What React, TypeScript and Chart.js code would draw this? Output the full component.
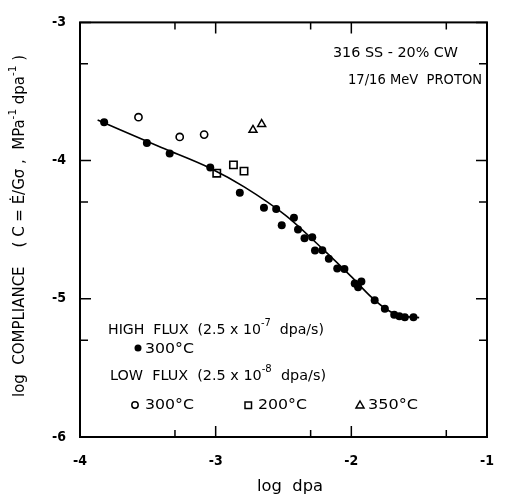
import React, { useEffect, useRef } from 'react';
import { Chart, registerables } from 'chart.js';

Chart.register(...registerables);

// ---- data (log dpa, log compliance) ----
const highFlux300X = [-3.822, -3.507, -3.339, -3.040, -2.822, -2.644, -2.554, -2.513, -2.423, -2.393, -2.345, -2.288, -2.268, -2.214, -2.166, -2.104, -2.051, -1.975, -1.926, -1.950, -1.828, -1.753, -1.684, -1.646, -1.606, -1.542];
const highFlux300Y = [-3.722, -3.872, -3.948, -4.050, -4.233, -4.342, -4.350, -4.468, -4.414, -4.498, -4.562, -4.555, -4.650, -4.648, -4.711, -4.780, -4.784, -4.889, -4.875, -4.917, -5.011, -5.072, -5.115, -5.126, -5.133, -5.133];

const lowFlux300X = [-3.569, -3.265, -3.085];
const lowFlux300Y = [-3.686, -3.829, -3.812];

const lowFlux200X = [-2.992, -2.869, -2.791];
const lowFlux200Y = [-4.091, -4.031, -4.076];

const lowFlux350X = [-2.725, -2.661];
const lowFlux350Y = [-3.779, -3.736];

const fitX = [-3.87, -3.4, -3.04, -2.79, -2.48, -2.2, -2.0, -1.85, -1.75, -1.65, -1.5];
const fitY = [-3.706, -3.905, -4.055, -4.19, -4.40, -4.65, -4.84, -4.99, -5.07, -5.12, -5.136];

const xTicks = [-4, -3.3, -3, -2.3, -2, -1.3, -1];
const yTicks = [-6, -5.3, -5, -4.3, -4, -3.3, -3];

const FONT = '"DejaVu Sans Condensed", "DejaVu Sans", sans-serif';

const toPts = (xs: number[], ys: number[]) => xs.map((x, i) => ({ x, y: ys[i] }));
const isMajor = (v: number) => Math.abs(v - Math.round(v)) < 1e-9;

type Part = { t: string; sup?: boolean };

function drawRich(
  ctx: CanvasRenderingContext2D,
  parts: Part[],
  x: number,
  y: number,
  size: number,
  width?: number,
  align: 'left' | 'center' = 'left',
  weight = 'normal'
) {
  const supSize = size * 0.7;
  const font = (s: number) => `${weight} ${s}px ${FONT}`;
  let natural = 0;
  const widths = parts.map((p) => {
    ctx.font = font(p.sup ? supSize : size);
    const w = ctx.measureText(p.t).width;
    natural += w;
    return w;
  });
  const sx = width ? width / natural : 1;
  ctx.save();
  ctx.translate(x, y);
  ctx.scale(sx, 1);
  let cx = align === 'center' ? -natural / 2 : 0;
  ctx.textBaseline = 'middle';
  ctx.textAlign = 'left';
  ctx.fillStyle = '#000';
  parts.forEach((p, i) => {
    ctx.font = font(p.sup ? supSize : size);
    ctx.fillText(p.t, cx, p.sup ? -size * 0.45 : 0);
    cx += widths[i];
  });
  ctx.restore();
}

const decorPlugin = {
  id: 'decor',
  afterDraw(chart: any) {
    const ctx: CanvasRenderingContext2D = chart.ctx;
    const xs = chart.scales.x;
    const ys = chart.scales.y;
    const { left, right, top, bottom } = chart.chartArea;
    ctx.save();
    ctx.strokeStyle = '#000';
    ctx.lineWidth = 2;
    ctx.strokeRect(left, top, right - left, bottom - top);
    ctx.lineWidth = 1.5;
    ctx.beginPath();
    xTicks.forEach((v) => {
      const px = xs.getPixelForValue(v);
      const L = isMajor(v) ? 11 : 7;
      ctx.moveTo(px, bottom);
      ctx.lineTo(px, bottom - L);
      ctx.moveTo(px, top);
      ctx.lineTo(px, top + L);
    });
    yTicks.forEach((v) => {
      const py = ys.getPixelForValue(v);
      const L = isMajor(v) ? 11 : 8;
      ctx.moveTo(left, py);
      ctx.lineTo(left + L, py);
      ctx.moveTo(right, py);
      ctx.lineTo(right - L, py);
    });
    ctx.stroke();

    // annotations
    drawRich(ctx, [{ t: '316 SS - 20% CW' }], 333, 53, 14, 125);
    drawRich(ctx, [{ t: '17/16 MeV  PROTON' }], 348, 80, 14, 134);

    drawRich(ctx, [{ t: 'HIGH  FLUX  (2.5 x 10' }, { t: '-7', sup: true }, { t: '  dpa/s)' }], 108, 330, 14, 216);
    drawRich(ctx, [{ t: 'LOW  FLUX  (2.5 x 10' }, { t: '-8', sup: true }, { t: '  dpa/s)' }], 110, 376, 14, 216);
    drawRich(ctx, [{ t: '300°C' }], 145, 349, 14, 49);
    drawRich(ctx, [{ t: '300°C' }], 145, 405, 14, 49);
    drawRich(ctx, [{ t: '200°C' }], 258, 405, 14, 49);
    drawRich(ctx, [{ t: '350°C' }], 368, 405, 14, 50);

    // legend markers
    ctx.fillStyle = '#000';
    ctx.lineWidth = 1.5;
    ctx.beginPath();
    ctx.arc(138, 348, 3.5, 0, Math.PI * 2);
    ctx.fill();
    ctx.beginPath();
    ctx.arc(135, 405, 3.2, 0, Math.PI * 2);
    ctx.stroke();
    ctx.strokeRect(245, 402, 6.5, 6.5);
    ctx.beginPath();
    ctx.moveTo(360, 401);
    ctx.lineTo(364, 408);
    ctx.lineTo(356, 408);
    ctx.closePath();
    ctx.stroke();

    // axis titles
    drawRich(ctx, [{ t: 'log  dpa' }], 290, 487, 15, 66, 'center');
    ctx.save();
    ctx.translate(20, 226);
    ctx.rotate(-Math.PI / 2);
    drawRich(
      ctx,
      [
        { t: 'log  COMPLIANCE    ( C = Ė/Gσ ,  MPa' },
        { t: '-1', sup: true },
        { t: ' dpa' },
        { t: '-1', sup: true },
        { t: ' )' },
      ],
      0,
      0,
      15,
      342,
      'center'
    );
    ctx.restore();
    ctx.restore();
  },
};

export default function App() {
  const ref = useRef<HTMLCanvasElement | null>(null);

  useEffect(() => {
    if (!ref.current) return;
    const tickFont = { family: FONT, size: 14, weight: 'bold' as const };
    const chart = new Chart(ref.current, {
      type: 'scatter',
      data: {
        datasets: [
          {
            label: 'fit',
            data: toPts(fitX, fitY),
            showLine: true,
            borderColor: '#000',
            borderWidth: 1.6,
            pointRadius: 0,
            cubicInterpolationMode: 'monotone',
            fill: false,
          } as any,
          {
            label: 'High flux 300°C',
            data: toPts(highFlux300X, highFlux300Y),
            pointStyle: 'circle',
            pointRadius: 4,
            backgroundColor: '#000',
            borderColor: '#000',
            borderWidth: 0,
          },
          {
            label: 'Low flux 300°C',
            data: toPts(lowFlux300X, lowFlux300Y),
            pointStyle: 'circle',
            pointRadius: 3.6,
            backgroundColor: '#fff',
            borderColor: '#000',
            borderWidth: 1.6,
          },
          {
            label: 'Low flux 200°C',
            data: toPts(lowFlux200X, lowFlux200Y),
            pointStyle: 'rect',
            pointRadius: 5.2,
            backgroundColor: '#fff',
            borderColor: '#000',
            borderWidth: 1.6,
          },
          {
            label: 'Low flux 350°C',
            data: toPts(lowFlux350X, lowFlux350Y),
            pointStyle: 'triangle',
            pointRadius: 4.6,
            backgroundColor: '#fff',
            borderColor: '#000',
            borderWidth: 1.5,
          },
        ],
      },
      options: {
        animation: false,
        responsive: true,
        maintainAspectRatio: false,
        layout: { padding: { top: 16, right: 8, left: 0, bottom: 0 } },
        plugins: { legend: { display: false }, tooltip: { enabled: false } },
        scales: {
          x: {
            type: 'linear',
            min: -4,
            max: -1,
            grid: { display: false, drawTicks: false },
            border: { display: false },
            afterBuildTicks: (s: any) => {
              s.ticks = xTicks.map((v) => ({ value: v }));
            },
            afterFit: (s: any) => {
              s.height = 59;
            },
            ticks: {
              autoSkip: false,
              maxRotation: 0,
              padding: 16,
              color: '#000',
              font: tickFont,
              callback: (v: any) => (isMajor(Number(v)) ? String(Math.round(Number(v))) : ''),
            },
          },
          y: {
            type: 'linear',
            min: -6,
            max: -3,
            grid: { display: false, drawTicks: false },
            border: { display: false },
            afterBuildTicks: (s: any) => {
              s.ticks = yTicks.map((v) => ({ value: v }));
            },
            afterFit: (s: any) => {
              s.width = 80;
            },
            ticks: {
              autoSkip: false,
              padding: 14,
              color: '#000',
              font: tickFont,
              callback: (v: any) => (isMajor(Number(v)) ? String(Math.round(Number(v))) : ''),
            },
          },
        },
      },
      plugins: [decorPlugin],
    });
    return () => chart.destroy();
  }, []);

  return (
    <div style={{ position: 'fixed', left: 0, top: 0, width: 510, height: 496, background: '#fff' }}>
      <canvas ref={ref} />
    </div>
  );
}
